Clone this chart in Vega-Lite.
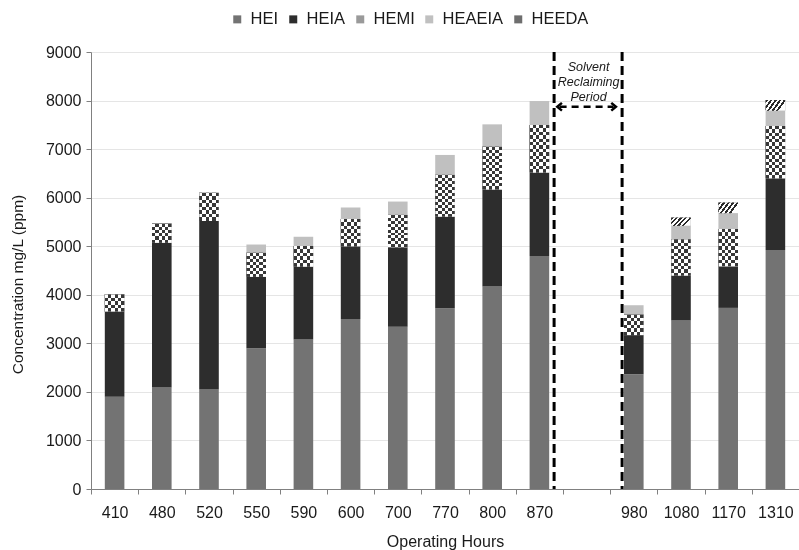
{
  "$schema": "https://vega.github.io/schema/vega-lite/v6.json",
  "width": 708,
  "height": 437,
  "autosize": {"type": "none"},
  "padding": {"left": 91, "top": 52, "right": 0, "bottom": 61},
  "background": "white",
  "config": {
    "font": "Liberation Sans",
    "view": {"stroke": null},
    "axis": {"labelColor": "#1a1a1a", "titleColor": "#1a1a1a", "titleFontWeight": "normal", "domainColor": "#808080", "tickColor": "#808080", "tickSize": 5, "labelFontSize": 16, "titleFontSize": 16}
  },
  "layer": [
    {
      "data": {
        "values": [
          {"hours": "410", "comp": "HEI", "value": 1900},
          {"hours": "410", "comp": "HEIA", "value": 1750},
          {"hours": "410", "comp": "HEMI", "value": 360},
          {"hours": "480", "comp": "HEI", "value": 2090},
          {"hours": "480", "comp": "HEIA", "value": 2980},
          {"hours": "480", "comp": "HEMI", "value": 400},
          {"hours": "520", "comp": "HEI", "value": 2050},
          {"hours": "520", "comp": "HEIA", "value": 3470},
          {"hours": "520", "comp": "HEMI", "value": 580},
          {"hours": "550", "comp": "HEI", "value": 2900},
          {"hours": "550", "comp": "HEIA", "value": 1470},
          {"hours": "550", "comp": "HEMI", "value": 495},
          {"hours": "550", "comp": "HEAEIA", "value": 170},
          {"hours": "590", "comp": "HEI", "value": 3080},
          {"hours": "590", "comp": "HEIA", "value": 1500},
          {"hours": "590", "comp": "HEMI", "value": 425},
          {"hours": "590", "comp": "HEAEIA", "value": 190},
          {"hours": "600", "comp": "HEI", "value": 3500},
          {"hours": "600", "comp": "HEIA", "value": 1500},
          {"hours": "600", "comp": "HEMI", "value": 560},
          {"hours": "600", "comp": "HEAEIA", "value": 240},
          {"hours": "700", "comp": "HEI", "value": 3340},
          {"hours": "700", "comp": "HEIA", "value": 1640},
          {"hours": "700", "comp": "HEMI", "value": 665},
          {"hours": "700", "comp": "HEAEIA", "value": 275},
          {"hours": "770", "comp": "HEI", "value": 3720},
          {"hours": "770", "comp": "HEIA", "value": 1890},
          {"hours": "770", "comp": "HEMI", "value": 860},
          {"hours": "770", "comp": "HEAEIA", "value": 410},
          {"hours": "800", "comp": "HEI", "value": 4170},
          {"hours": "800", "comp": "HEIA", "value": 2000},
          {"hours": "800", "comp": "HEMI", "value": 880},
          {"hours": "800", "comp": "HEAEIA", "value": 460},
          {"hours": "870", "comp": "HEI", "value": 4800},
          {"hours": "870", "comp": "HEIA", "value": 1720},
          {"hours": "870", "comp": "HEMI", "value": 975},
          {"hours": "870", "comp": "HEAEIA", "value": 495},
          {"hours": "980", "comp": "HEI", "value": 2360},
          {"hours": "980", "comp": "HEIA", "value": 810},
          {"hours": "980", "comp": "HEMI", "value": 425},
          {"hours": "980", "comp": "HEAEIA", "value": 190},
          {"hours": "1080", "comp": "HEI", "value": 3470},
          {"hours": "1080", "comp": "HEIA", "value": 920},
          {"hours": "1080", "comp": "HEMI", "value": 755},
          {"hours": "1080", "comp": "HEAEIA", "value": 275},
          {"hours": "1080", "comp": "HEEDA", "value": 170},
          {"hours": "1170", "comp": "HEI", "value": 3730},
          {"hours": "1170", "comp": "HEIA", "value": 850},
          {"hours": "1170", "comp": "HEMI", "value": 775},
          {"hours": "1170", "comp": "HEAEIA", "value": 325},
          {"hours": "1170", "comp": "HEEDA", "value": 220},
          {"hours": "1310", "comp": "HEI", "value": 4920},
          {"hours": "1310", "comp": "HEIA", "value": 1480},
          {"hours": "1310", "comp": "HEMI", "value": 1075},
          {"hours": "1310", "comp": "HEAEIA", "value": 315},
          {"hours": "1310", "comp": "HEEDA", "value": 220}
        ]
      },
      "transform": [
        {"calculate": "indexof(['HEI','HEIA','HEMI','HEAEIA','HEEDA'], datum.comp)", "as": "ord"},
        {"stack": "value", "groupby": ["hours"], "sort": [{"field": "ord", "order": "ascending"}], "as": ["y0", "y1"]}
      ],
      "layer": [
        {
          "mark": {"type": "bar", "width": {"band": 0.415}},
          "encoding": {
            "x": {
              "field": "hours", "type": "nominal",
              "scale": {"domain": ["410","480","520","550","590","600","700","770","800","870","gap","980","1080","1170","1310"], "paddingInner": 0, "paddingOuter": 0},
              "axis": {"title": "Operating Hours", "tickBand": "extent", "labelAngle": 0, "labelExpr": "datum.value == 'gap' ? '' : datum.value", "grid": false, "labelPadding": 10, "titlePadding": 13}
            },
            "y": {
              "field": "y1", "type": "quantitative",
              "scale": {"domain": [0, 9000], "nice": false},
              "axis": {"title": "Concentration mg/L (ppm)", "format": "d", "values": [0,1000,2000,3000,4000,5000,6000,7000,8000,9000], "grid": true, "gridColor": "#e5e5e5", "gridWidth": 1.2, "labelPadding": 5, "titlePadding": 20, "titleFontSize": 15.5, "titleY": 232}
            },
            "y2": {"field": "y0"},
            "color": {
              "field": "comp", "type": "nominal",
              "scale": {
                "domain": ["HEI","HEIA","HEMI","HEAEIA","HEEDA"],
                "range": ["#737373", "#2d2d2d", "#9a9a9a", "#c0c0c0", "#6e6e6e"]
              },
              "legend": {
                "orient": "none", "legendX": 138, "legendY": -41, "direction": "horizontal", "columns": 5, "title": null,
                "symbolType": "square", "symbolSize": 64, "symbolStrokeWidth": 0, "labelFontSize": 16.5, "labelColor": "#1a1a1a",
                "columnPadding": 6, "labelOffset": 5, "padding": 0,
                "encode": {
                  "symbols": {
                    "update": {
                      "fill": [
                        {"test": "datum.value === 'HEEDA'", "value": {"gradient": "linear", "x1": 0, "y1": 0, "x2": 1, "y2": 1, "stops": [
                          {"offset": 0, "color": "#fff"}, {"offset": 0.2, "color": "#fff"},
                          {"offset": 0.2, "color": "#2a2a2a"}, {"offset": 0.35, "color": "#2a2a2a"},
                          {"offset": 0.35, "color": "#fff"}, {"offset": 0.5, "color": "#fff"},
                          {"offset": 0.5, "color": "#2a2a2a"}, {"offset": 0.65, "color": "#2a2a2a"},
                          {"offset": 0.65, "color": "#fff"}, {"offset": 0.8, "color": "#fff"},
                          {"offset": 0.8, "color": "#2a2a2a"}, {"offset": 1, "color": "#2a2a2a"}]}},
                        {"test": "datum.value === 'HEMI'", "value": {"gradient": "linear", "x1": 0, "y1": 0, "x2": 0, "y2": 1, "stops": [
                          {"offset": 0, "color": "#fff"}, {"offset": 0.55, "color": "#fff"},
                          {"offset": 0.55, "color": "#3a3a3a"}, {"offset": 1, "color": "#3a3a3a"}]}},
                        {"scale": "color", "field": "value"}
                      ]
                    }
                  }
                }
              }
            }
          }
        },
        {
          "transform": [{"filter": "datum.comp === 'HEMI'"}],
          "mark": {"type": "bar", "width": {"band": 0.415}, "fill": {"gradient": "linear", "x1": 0, "y1": 0, "x2": 1, "y2": 0, "stops": [
                    {"offset": 0, "color": "#000"}, {"offset": 0.1667, "color": "#000"},
                    {"offset": 0.1667, "color": "#fff"}, {"offset": 0.3333, "color": "#fff"},
                    {"offset": 0.3333, "color": "#000"}, {"offset": 0.5, "color": "#000"},
                    {"offset": 0.5, "color": "#fff"}, {"offset": 0.6667, "color": "#fff"},
                    {"offset": 0.6667, "color": "#000"}, {"offset": 0.8333, "color": "#000"},
                    {"offset": 0.8333, "color": "#fff"}, {"offset": 1, "color": "#fff"}]}},
          "encoding": {
            "x": {"field": "hours", "type": "nominal"},
            "y": {"field": "y1", "type": "quantitative"},
            "y2": {"field": "y0"}
          }
        },
        {
          "transform": [{"filter": "datum.comp === 'HEMI'"}],
          "mark": {"type": "bar", "width": {"band": 0.415}, "blend": "difference"},
          "encoding": {
            "x": {"field": "hours", "type": "nominal"},
            "y": {"field": "y1", "type": "quantitative"},
            "y2": {"field": "y0"},
            "fill": {
              "condition": [
                {"test": "datum.y1 - datum.y0 < 380", "value": {"gradient": "linear", "x1": 0, "y1": 0, "x2": 0, "y2": 1, "stops": [
                  {"offset": 0, "color": "#fff"}, {"offset": 0.2, "color": "#fff"}, {"offset": 0.2, "color": "rgba(255,255,255,0)"}, {"offset": 0.4, "color": "rgba(255,255,255,0)"},
                  {"offset": 0.4, "color": "#fff"}, {"offset": 0.6, "color": "#fff"}, {"offset": 0.6, "color": "rgba(255,255,255,0)"}, {"offset": 0.8, "color": "rgba(255,255,255,0)"},
                  {"offset": 0.8, "color": "#fff"}, {"offset": 1, "color": "#fff"}]}},
                {"test": "datum.y1 - datum.y0 < 465", "value": {"gradient": "linear", "x1": 0, "y1": 0, "x2": 0, "y2": 1, "stops": [
                  {"offset": 0, "color": "#fff"}, {"offset": 0.1667, "color": "#fff"}, {"offset": 0.1667, "color": "rgba(255,255,255,0)"}, {"offset": 0.3333, "color": "rgba(255,255,255,0)"},
                  {"offset": 0.3333, "color": "#fff"}, {"offset": 0.5, "color": "#fff"}, {"offset": 0.5, "color": "rgba(255,255,255,0)"}, {"offset": 0.6667, "color": "rgba(255,255,255,0)"},
                  {"offset": 0.6667, "color": "#fff"}, {"offset": 0.8333, "color": "#fff"}, {"offset": 0.8333, "color": "rgba(255,255,255,0)"}, {"offset": 1, "color": "rgba(255,255,255,0)"}]}},
                {"test": "datum.y1 - datum.y0 < 625", "value": {"gradient": "linear", "x1": 0, "y1": 0, "x2": 0, "y2": 1, "stops": [
                  {"offset": 0, "color": "#fff"}, {"offset": 0.125, "color": "#fff"}, {"offset": 0.125, "color": "rgba(255,255,255,0)"}, {"offset": 0.25, "color": "rgba(255,255,255,0)"},
                  {"offset": 0.25, "color": "#fff"}, {"offset": 0.375, "color": "#fff"}, {"offset": 0.375, "color": "rgba(255,255,255,0)"}, {"offset": 0.5, "color": "rgba(255,255,255,0)"},
                  {"offset": 0.5, "color": "#fff"}, {"offset": 0.625, "color": "#fff"}, {"offset": 0.625, "color": "rgba(255,255,255,0)"}, {"offset": 0.75, "color": "rgba(255,255,255,0)"},
                  {"offset": 0.75, "color": "#fff"}, {"offset": 0.875, "color": "#fff"}, {"offset": 0.875, "color": "rgba(255,255,255,0)"}, {"offset": 1, "color": "rgba(255,255,255,0)"}]}},
                {"test": "datum.y1 - datum.y0 < 810", "value": {"gradient": "linear", "x1": 0, "y1": 0, "x2": 0, "y2": 1, "stops": [
                  {"offset": 0, "color": "#fff"}, {"offset": 0.0909, "color": "#fff"}, {"offset": 0.0909, "color": "rgba(255,255,255,0)"}, {"offset": 0.1818, "color": "rgba(255,255,255,0)"},
                  {"offset": 0.1818, "color": "#fff"}, {"offset": 0.2727, "color": "#fff"}, {"offset": 0.2727, "color": "rgba(255,255,255,0)"}, {"offset": 0.3636, "color": "rgba(255,255,255,0)"},
                  {"offset": 0.3636, "color": "#fff"}, {"offset": 0.4545, "color": "#fff"}, {"offset": 0.4545, "color": "rgba(255,255,255,0)"}, {"offset": 0.5455, "color": "rgba(255,255,255,0)"},
                  {"offset": 0.5455, "color": "#fff"}, {"offset": 0.6364, "color": "#fff"}, {"offset": 0.6364, "color": "rgba(255,255,255,0)"}, {"offset": 0.7273, "color": "rgba(255,255,255,0)"},
                  {"offset": 0.7273, "color": "#fff"}, {"offset": 0.8182, "color": "#fff"}, {"offset": 0.8182, "color": "rgba(255,255,255,0)"}, {"offset": 0.9091, "color": "rgba(255,255,255,0)"},
                  {"offset": 0.9091, "color": "#fff"}, {"offset": 1, "color": "#fff"}]}},
                {"test": "datum.y1 - datum.y0 < 1020", "value": {"gradient": "linear", "x1": 0, "y1": 0, "x2": 0, "y2": 1, "stops": [
                  {"offset": 0, "color": "#fff"}, {"offset": 0.0714, "color": "#fff"}, {"offset": 0.0714, "color": "rgba(255,255,255,0)"}, {"offset": 0.1429, "color": "rgba(255,255,255,0)"},
                  {"offset": 0.1429, "color": "#fff"}, {"offset": 0.2143, "color": "#fff"}, {"offset": 0.2143, "color": "rgba(255,255,255,0)"}, {"offset": 0.2857, "color": "rgba(255,255,255,0)"},
                  {"offset": 0.2857, "color": "#fff"}, {"offset": 0.3571, "color": "#fff"}, {"offset": 0.3571, "color": "rgba(255,255,255,0)"}, {"offset": 0.4286, "color": "rgba(255,255,255,0)"},
                  {"offset": 0.4286, "color": "#fff"}, {"offset": 0.5, "color": "#fff"}, {"offset": 0.5, "color": "rgba(255,255,255,0)"}, {"offset": 0.5714, "color": "rgba(255,255,255,0)"},
                  {"offset": 0.5714, "color": "#fff"}, {"offset": 0.6429, "color": "#fff"}, {"offset": 0.6429, "color": "rgba(255,255,255,0)"}, {"offset": 0.7143, "color": "rgba(255,255,255,0)"},
                  {"offset": 0.7143, "color": "#fff"}, {"offset": 0.7857, "color": "#fff"}, {"offset": 0.7857, "color": "rgba(255,255,255,0)"}, {"offset": 0.8571, "color": "rgba(255,255,255,0)"},
                  {"offset": 0.8571, "color": "#fff"}, {"offset": 0.9286, "color": "#fff"}, {"offset": 0.9286, "color": "rgba(255,255,255,0)"}, {"offset": 1, "color": "rgba(255,255,255,0)"}]}}
              ],
              "value": {"gradient": "linear", "x1": 0, "y1": 0, "x2": 0, "y2": 1, "stops": [
                {"offset": 0, "color": "#fff"}, {"offset": 0.0625, "color": "#fff"}, {"offset": 0.0625, "color": "rgba(255,255,255,0)"}, {"offset": 0.125, "color": "rgba(255,255,255,0)"},
                {"offset": 0.125, "color": "#fff"}, {"offset": 0.1875, "color": "#fff"}, {"offset": 0.1875, "color": "rgba(255,255,255,0)"}, {"offset": 0.25, "color": "rgba(255,255,255,0)"},
                {"offset": 0.25, "color": "#fff"}, {"offset": 0.3125, "color": "#fff"}, {"offset": 0.3125, "color": "rgba(255,255,255,0)"}, {"offset": 0.375, "color": "rgba(255,255,255,0)"},
                {"offset": 0.375, "color": "#fff"}, {"offset": 0.4375, "color": "#fff"}, {"offset": 0.4375, "color": "rgba(255,255,255,0)"}, {"offset": 0.5, "color": "rgba(255,255,255,0)"},
                {"offset": 0.5, "color": "#fff"}, {"offset": 0.5625, "color": "#fff"}, {"offset": 0.5625, "color": "rgba(255,255,255,0)"}, {"offset": 0.625, "color": "rgba(255,255,255,0)"},
                {"offset": 0.625, "color": "#fff"}, {"offset": 0.6875, "color": "#fff"}, {"offset": 0.6875, "color": "rgba(255,255,255,0)"}, {"offset": 0.75, "color": "rgba(255,255,255,0)"},
                {"offset": 0.75, "color": "#fff"}, {"offset": 0.8125, "color": "#fff"}, {"offset": 0.8125, "color": "rgba(255,255,255,0)"}, {"offset": 0.875, "color": "rgba(255,255,255,0)"},
                {"offset": 0.875, "color": "#fff"}, {"offset": 0.9375, "color": "#fff"}, {"offset": 0.9375, "color": "rgba(255,255,255,0)"}, {"offset": 1, "color": "rgba(255,255,255,0)"}]}
            }
          }
        },
        {
          "transform": [{"filter": "datum.comp === 'HEMI'"}],
          "mark": {"type": "bar", "width": {"band": 0.415}, "fill": "#fff", "fillOpacity": 0.22},
          "encoding": {
            "x": {"field": "hours", "type": "nominal"},
            "y": {"field": "y1", "type": "quantitative"},
            "y2": {"field": "y0"}
          }
        },
        {
          "transform": [{"filter": "datum.comp === 'HEEDA'"}],
          "mark": {"type": "bar", "width": {"band": 0.415}, "fill": {"gradient": "linear", "x1": 0, "y1": 0, "x2": 1, "y2": 0.4, "stops": [
                    {"offset": 0, "color": "#2a2a2a"}, {"offset": 0.1, "color": "#2a2a2a"},
                    {"offset": 0.1, "color": "#fff"}, {"offset": 0.2, "color": "#fff"},
                    {"offset": 0.2, "color": "#2a2a2a"}, {"offset": 0.3, "color": "#2a2a2a"},
                    {"offset": 0.3, "color": "#fff"}, {"offset": 0.4, "color": "#fff"},
                    {"offset": 0.4, "color": "#2a2a2a"}, {"offset": 0.5, "color": "#2a2a2a"},
                    {"offset": 0.5, "color": "#fff"}, {"offset": 0.6, "color": "#fff"},
                    {"offset": 0.6, "color": "#2a2a2a"}, {"offset": 0.7, "color": "#2a2a2a"},
                    {"offset": 0.7, "color": "#fff"}, {"offset": 0.8, "color": "#fff"},
                    {"offset": 0.8, "color": "#2a2a2a"}, {"offset": 0.9, "color": "#2a2a2a"},
                    {"offset": 0.9, "color": "#fff"}, {"offset": 1, "color": "#fff"}]}},
          "encoding": {
            "x": {"field": "hours", "type": "nominal"},
            "y": {"field": "y1", "type": "quantitative"},
            "y2": {"field": "y0"}
          }
        }
      ]
    },
    {
      "data": {"values": [{}]},
      "mark": {"type": "rule", "color": "#000", "strokeWidth": 3, "strokeDash": [9, 5], "xOffset": -32.5},
      "encoding": {"x": {"datum": "gap", "type": "nominal"}, "y": {"datum": 9000, "type": "quantitative"}, "y2": {"datum": 0}}
    },
    {
      "data": {"values": [{}]},
      "mark": {"type": "rule", "color": "#000", "strokeWidth": 3, "strokeDash": [9, 5], "xOffset": 35.5},
      "encoding": {"x": {"datum": "gap", "type": "nominal"}, "y": {"datum": 9000, "type": "quantitative"}, "y2": {"datum": 0}}
    },
    {
      "data": {"values": [{}]},
      "mark": {"type": "rule", "color": "#000", "strokeWidth": 2.5, "strokeDash": [7, 5], "xOffset": -27, "x2Offset": 27},
      "encoding": {"x": {"datum": "gap", "type": "nominal"}, "x2": {"datum": "gap"}, "y": {"datum": 7873, "type": "quantitative"}}
    },
    {
      "data": {"values": [{}]},
      "mark": {"type": "point", "shape": "M 0.6 -1 L -0.6 0 L 0.6 1", "filled": false, "stroke": "#000", "strokeWidth": 2.5, "size": 60, "opacity": 1, "xOffset": -27},
      "encoding": {"x": {"datum": "gap", "type": "nominal"}, "y": {"datum": 7873, "type": "quantitative"}}
    },
    {
      "data": {"values": [{}]},
      "mark": {"type": "point", "shape": "M -0.6 -1 L 0.6 0 L -0.6 1", "filled": false, "stroke": "#000", "strokeWidth": 2.5, "size": 60, "opacity": 1, "xOffset": 27},
      "encoding": {"x": {"datum": "gap", "type": "nominal"}, "y": {"datum": 7873, "type": "quantitative"}}
    },
    {
      "data": {"values": [{}]},
      "mark": {"type": "text", "fontStyle": "italic", "fontSize": 12.5, "lineHeight": 15.3, "baseline": "middle", "align": "center", "color": "#1a1a1a", "xOffset": 2},
      "encoding": {"x": {"datum": "gap", "type": "nominal"}, "y": {"datum": 8697, "type": "quantitative"}, "text": {"value": ["Solvent", "Reclaiming", "Period"]}}
    }
  ]
}
